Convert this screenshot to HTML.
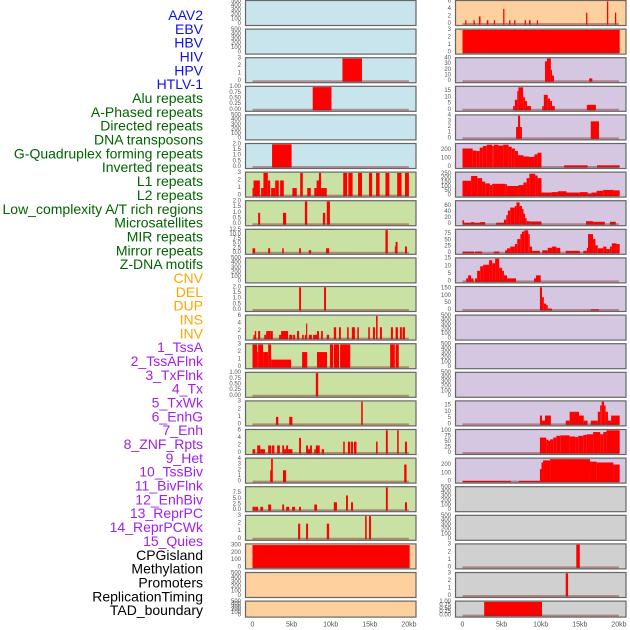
<!DOCTYPE html>
<html><head><meta charset="utf-8"><style>
html,body{margin:0;padding:0;background:#fff;}
svg{display:block;font-family:"Liberation Sans",sans-serif;}
</style></head><body>
<svg id="chart" width="630" height="630" viewBox="0 0 630 630" xmlns="http://www.w3.org/2000/svg"></svg>
<script>
// ---------- data ----------
const trackNames = ["AAV2","EBV","HBV","HIV","HPV","HTLV-1","Alu repeats","A-Phased repeats","Directed repeats","DNA transposons","G-Quadruplex forming repeats","Inverted repeats","L1 repeats","L2 repeats","Low_complexity A/T rich regions","Microsatellites","MIR repeats","Mirror repeats","Z-DNA motifs","CNV","DEL","DUP","INS","INV","1_TssA","2_TssAFlnk","3_TxFlnk","4_Tx","5_TxWk","6_EnhG","7_Enh","8_ZNF_Rpts","9_Het","10_TssBiv","11_BivFlnk","12_EnhBiv","13_ReprPC","14_ReprPCWk","15_Quies","CPGisland","Methylation","Promoters","ReplicationTiming","TAD_boundary"];
const trackGroups = ["virus","virus","virus","virus","virus","virus","repeat","repeat","repeat","repeat","repeat","repeat","repeat","repeat","repeat","repeat","repeat","repeat","repeat","sv","sv","sv","sv","sv","chrom","chrom","chrom","chrom","chrom","chrom","chrom","chrom","chrom","chrom","chrom","chrom","chrom","chrom","chrom","other","other","other","other","other"];
// y-axis top value (value at top of panel) per track
const yTop = [500,500,3,1,500,2,3,2,12.5,500,2,6,3,1,3,6,4,10,3,310,500,500,6,3,40,18.2,4,270,260,75,91,15,160,500,500,500,18,103,273,500,500,3,3,1];
const xTickLabels = ["0","5kb","10kb","15kb","20kb"];
const xTickValues = [0,5,10,15,20];
const tickSets = {
  "500":[0,100,200,300,400,500],"3":[0,1,2,3],"1":[0,0.25,0.5,0.75,1],"2":[0,0.5,1,1.5,2],
  "12.5":[0,2.5,5,7.5,10,12.5],"6":[0,2,4,6],"4":[0,1,2,3,4],"10":[0,2.5,5,7.5],"310":[0,100,200,300],
  "40":[0,10,20,30,40],"18.2":[0,5,10,15],"270":[0,100,200],"260":[0,50,100,150,200,250],"75":[0,20,40,60],
  "91":[0,25,50,75],"15":[0,5,10,15],"160":[0,50,100,150],"18":[0,5,10,15],"103":[0,25,50,75,100],"273":[0,100,200]
};
// segments: [startKb, endKb, value]
const seg_HBV=[[11.5,14,3]];
const seg_HIV=[[7.7,10.1,1]];
const seg_HTLV=[[2.5,5,2]];
const seg_Alu=[[0,0.13,1],[0.13,0.94,2],[1.1,1.4,1],[1.4,1.96,3],[1.96,2.26,2],[2.38,2.9,1],[2.9,3.36,2],[3.53,4,2],[5.1,5.66,1],[6.1,6.43,3],[7,7.45,1],[7.9,8.2,1],[8.2,8.5,2],[8.5,8.77,3],[8.77,9.5,1],[11.6,12.1,3],[12.25,12.8,3],[13.5,14,3],[14.9,15.3,3],[15.8,16.25,3],[17,17.5,3],[18.5,19.06,3],[19.5,20,3]];
const seg_APhased=[[0.72,0.98,1],[3.9,4.3,1],[6.7,7,2],[9,9.3,1],[9.5,9.9,2]];
const seg_Directed=[[0,0.34,2.5],[2,2.26,2.5],[3.8,4,2.5],[5.96,6.2,2.5],[7.2,7.5,1.5],[9.4,9.8,2.5],[17,17.3,12.5],[18.2,18.3,3.5],[18.3,18.55,6],[19.5,19.75,3.5]];
const seg_GQuad=[[5.96,6.2,2],[9.15,9.4,2]];
const seg_Inverted=[[0.13,0.3,1],[0.3,0.47,2],[0.72,0.98,2],[1.5,1.75,1],[1.75,2.26,2],[2.26,2.6,2],[3.4,3.66,1],[3.66,4.55,2],[4.7,5.1,1],[5.2,5.45,1],[5.7,5.96,2],[6.34,6.55,1],[6.7,6.85,1],[6.85,7,4],[7.2,7.6,1],[7.75,8.25,1],[8.25,8.5,2],[8.77,9,2],[9.5,9.8,1],[10.4,10.7,3],[11.06,11.3,3],[12.1,12.3,3],[12.7,13.1,3],[13.4,13.6,3],[14.8,15,3],[15.4,15.66,3],[15.8,16,6],[16.3,16.55,3],[17.7,17.96,3],[18.3,18.6,3],[18.85,19.1,3],[19.2,19.5,3]];
const seg_L1=[[0,0.6,3],[0.6,0.72,2],[0.72,1.36,3],[1.36,2,2],[2,2.38,3],[2.38,4.94,1],[6.34,7,2],[8.25,9.53,2],[9.9,10.3,3],[10.4,11.06,3],[11.2,12.5,3],[17.6,18.2,3],[18.3,18.7,3]];
const seg_L2=[[8.1,8.4,1]];
const seg_LowC=[[3,3.3,1],[4.7,5.1,1],[13.9,14.1,3]];
const seg_Micro=[[0,0.34,1],[0.6,1,2],[1,1.6,1],[2,2.4,2],[2.5,2.8,2],[3.15,3.5,2],[3.8,4.04,2],[4.04,4.3,1],[4.3,4.55,2],[4.55,5.1,1],[5.96,6.2,4],[6.85,7.1,2],[7.1,7.36,1],[7.36,7.6,2],[7.9,8.1,1],[8.1,8.6,2],[8.85,9.15,1],[11.6,11.8,3],[12.2,12.5,3],[12.6,12.85,3],[12.98,13.3,3],[15.8,16,3],[17.06,17.3,6],[18.5,18.7,6],[19.5,19.75,3]];
const seg_MIR=[[2.26,2.47,2],[2.38,2.6,4],[3.9,4.3,2],[19.4,19.7,3]];
const seg_Mirror=[[0,0.34,1.5],[0.34,0.72,1.5],[1,1.36,1.5],[2,2.38,2.5],[3.8,4.04,2.5],[4.3,4.7,1.5],[5.06,5.45,1.5],[5.96,6.2,1.5],[7.9,8.25,2.5],[10.4,10.8,3.5],[11.96,12.2,6.5],[12.6,12.85,3.5],[17.06,17.3,10],[19.5,19.75,3.5]];
const seg_ZDNA=[[5.83,6.1,2],[6.85,7.1,2],[9.5,9.8,2],[14.4,14.6,3],[14.9,15.15,3]];
const seg_CNV=[[0,20.1,305]];
const seg_INS=[[0.34,0.5,1],[1.4,1.57,1],[2.1,2.3,2],[3.1,3.3,1],[4,4.17,1],[5.2,5.36,4],[5.96,6.13,1],[6.6,6.77,1],[7.96,8.13,1],[8.5,8.7,1],[9.5,9.66,1],[15.8,15.96,3],[18.47,18.64,6],[19.5,19.66,3]];
const seg_INV=[[0,20.1,3]];
const seg_TssA=[[10.55,10.8,35],[10.8,11.3,40],[11.3,11.45,20],[11.45,11.7,10],[16.2,16.6,5]];
const seg_TssAFlnk=[[6.47,6.7,3],[6.7,7,8],[7,7.15,15],[7.15,7.75,18],[7.75,8,10],[8,8.25,7],[8.25,8.77,3],[10.2,10.4,3],[10.4,10.9,12],[10.9,11.2,9],[11.2,11.45,7],[11.45,11.8,3],[15.9,17.06,4]];
const seg_TxFlnk=[[6.85,7.1,2],[7.1,7.36,4],[7.36,7.6,2],[16.4,17.45,3]];
const seg_Tx=[[0,1.3,220],[1.3,1.75,195],[1.75,2.2,190],[2.2,2.6,230],[2.6,3.1,250],[3.1,3.8,265],[3.8,4,250],[4,4.6,265],[4.6,5.2,255],[5.2,5.9,265],[5.9,6.3,240],[6.3,6.7,220],[6.7,7.1,190],[7.1,7.8,140],[7.8,8.5,125],[8.5,9.2,120],[9.2,9.6,150],[9.6,10.1,170],[13,16,20],[17.2,20.1,20]];
const seg_TxWk=[[0,1.1,170],[1.1,1.9,225],[1.9,2.5,200],[2.5,2.9,160],[2.9,3.5,140],[3.5,3.8,120],[3.8,5.45,135],[5.45,5.7,130],[5.7,7.15,110],[7.15,7.8,120],[7.8,8.2,150],[8.2,8.55,200],[8.55,9.3,250],[9.3,9.6,230],[9.6,10.1,200],[10.1,11.4,35],[11.4,12.2,40],[12.2,13.3,50],[13.3,15,35],[15,16,40],[16,16.5,25],[16.5,17.15,35],[17.15,18,55],[18,19.3,65],[19.3,20.1,60]];
const seg_EnhG=[[0,0.2,13],[0.2,1.1,5],[1.1,1.5,7],[1.5,2.25,5],[2.25,2.9,7],[4.3,5.3,5],[5.3,5.6,15],[5.6,5.8,30],[5.8,6.1,45],[6.1,6.7,55],[6.7,6.9,60],[6.9,7.3,72],[7.3,7.6,60],[7.6,7.8,50],[7.8,8,35],[8,8.2,20],[8.2,8.6,10],[8.6,10.1,9],[15.8,16.7,10],[16.7,18.2,8],[18.85,19.6,8]];
const seg_Enh=[[0,1.5,5],[1.6,2.5,5],[4,4.7,5],[5.45,5.7,10],[5.7,6.1,18],[6.1,6.7,25],[6.7,7,35],[7,7.4,55],[7.4,7.6,75],[7.6,7.9,85],[7.9,8.4,90],[8.4,8.6,75],[8.6,8.9,25],[8.9,9.9,8],[10.2,10.9,10],[10.9,11.45,20],[11.45,12,25],[12,12.5,20],[13.2,15,8],[15.45,15.9,8],[15.9,16.05,20],[16.05,16.7,75],[16.7,17,55],[17,17.3,30],[17.3,18,18],[18,18.4,25],[18.4,18.85,15],[18.85,19.1,25],[19.1,19.7,38],[19.7,20.1,35]];
const seg_ZNF=[[0.47,0.72,2],[0.72,1.1,4],[1.1,1.4,2],[1.6,1.87,2],[1.87,2.26,7],[2.26,2.64,10],[2.64,3.4,11],[3.4,3.8,14],[3.8,4.17,12],[4.17,4.7,15],[4.7,5.06,9],[5.06,5.3,7],[5.3,5.7,4],[5.7,6.85,2],[9.15,9.4,2],[9.4,10,4]];
const seg_Het=[[9.9,10.17,160],[10.17,10.4,90],[10.4,10.7,45],[10.7,10.9,35],[10.9,11.45,10],[16.4,17.45,5]];
const seg_ReprPC=[[9.9,10.17,7],[10.17,10.55,3],[10.55,11.3,7],[13.2,13.7,3],[13.7,14.9,10],[14.9,15.5,7],[15.5,16,3],[16.4,17.3,3],[17.3,17.6,10],[17.6,17.8,15],[17.8,18.1,18],[18.1,18.3,15],[18.3,18.6,10],[18.6,19,3],[19,20.1,7]];
const seg_ReprPCWk=[[9.9,10.7,70],[10.7,11,60],[11,11.2,55],[11.2,11.6,62],[11.6,12,70],[12,12.5,78],[12.5,13.7,80],[13.7,14.4,75],[14.4,14.8,72],[14.8,15.45,78],[15.45,15.9,82],[15.9,16.7,85],[16.7,17.6,95],[17.6,18,85],[18,18.4,95],[18.4,20.1,103]];
const seg_Quies=[[0,6.2,8],[7.2,9.9,8],[9.9,10.1,150],[10.1,10.3,230],[10.3,11.2,255],[11.2,16.3,270],[16.3,17.15,240],[17.15,19.3,230],[19.3,20.1,205]];
const seg_Promoters=[[14.55,15,3]];
const seg_RepTiming=[[13.2,13.5,3]];
const seg_TAD=[[2.77,10.17,1]];
const trackSegments=[null,null,seg_HBV,seg_HIV,null,seg_HTLV,seg_Alu,seg_APhased,seg_Directed,null,seg_GQuad,seg_Inverted,seg_L1,seg_L2,seg_LowC,seg_Micro,seg_MIR,seg_Mirror,seg_ZDNA,seg_CNV,null,null,seg_INS,seg_INV,seg_TssA,seg_TssAFlnk,seg_TxFlnk,seg_Tx,seg_TxWk,seg_EnhG,seg_Enh,seg_ZNF,seg_Het,null,null,null,seg_ReprPC,seg_ReprPCWk,seg_Quies,null,null,seg_Promoters,seg_RepTiming,seg_TAD];

// ---------- drawing ----------
const NS="http://www.w3.org/2000/svg";
const svg=document.getElementById('chart');
const labelColor={virus:"#1010ee",repeat:"#006400",sv:"#ffa500",chrom:"#a020f0",other:"#000"};
const bgColor={virus:"#c8e4ec",repeat:"#c9e1a3",sv:"#fed09e",chrom:"#d5c6e2",other:"#d0d0d0"};
function mk(tag,attrs){const e=document.createElementNS(NS,tag);for(const k in attrs)e.setAttribute(k,attrs[k]);return e;}
function fmt(v,ticks){const dec=ticks.some(t=>Math.abs(t-Math.round(t))>1e-9)?(ticks.some(t=>Math.abs(t*10-Math.round(t*10))>1e-9)?2:1):0;return v.toFixed(dec);}

// labels
trackNames.forEach((n,i)=>{
  const t=mk('text',{x:203,y:15+i*13.84,'text-anchor':'end','dominant-baseline':'central','font-size':'14',fill:labelColor[trackGroups[i]]});
  t.textContent=n;
  
  
  svg.appendChild(t);
});

const cols=[{fx:245.5,fw:170.5,x0:252.5,tickX:241},{fx:455.5,fw:170.5,x0:462.5,tickX:451}];
const pxPerKb=7.82;
trackNames.forEach((n,i)=>{
  const col=cols[Math.floor(i/22)], r=i%22;
  const T=r*28.6+0.5, H=(r===21)?16:25;
  const xs=kb=>col.x0+kb*pxPerKb;
  const ys=v=>T+H-1.5-v/yTop[i]*(H-2.3);
  const g=mk('g',{});
  
  
  const bg=mk('rect',{x:col.fx,y:T,width:col.fw,height:H,fill:bgColor[trackGroups[i]],stroke:'none'});
  
  
  g.appendChild(bg);
  const segs=trackSegments[i];
  if(segs){
    segs.forEach(s=>{
      const y1=ys(s[2]), y0=ys(0);
      const b=mk('rect',{x:xs(s[0]),y:y1,width:Math.max(0.8,xs(s[1])-xs(s[0])),height:y0-y1+0.5,fill:'#ff0000'});
      
      
      g.appendChild(b);
    });
    const bl=mk('line',{x1:xs(0),x2:xs(20),y1:ys(0),y2:ys(0),stroke:'rgba(140,40,40,0.45)','stroke-width':2});
    
    
    g.appendChild(bl);
  }
  const fr=mk('rect',{x:col.fx,y:T,width:col.fw,height:H,fill:'none',stroke:'#666','stroke-width':1.2});
  
  
  g.appendChild(fr);
  const ticks=tickSets[String(yTop[i])]||[0];
  ticks.forEach(tv=>{
    const tt=mk('text',{x:col.tickX,y:ys(tv),'text-anchor':'end','dominant-baseline':'central','font-size':'6',fill:'#555'});
    tt.textContent=fmt(tv,ticks);
    
    
    g.appendChild(tt);
  });
  svg.appendChild(g);
});
cols.forEach((col,ci)=>{
  xTickValues.forEach((v,k)=>{
    const t=mk('text',{x:col.x0+v*pxPerKb,y:625,'text-anchor':'middle','dominant-baseline':'central','font-size':'7',fill:'#555'});
    t.textContent=xTickLabels[k];
    
    
    svg.appendChild(t);
  });
});
</script>
</body></html>
